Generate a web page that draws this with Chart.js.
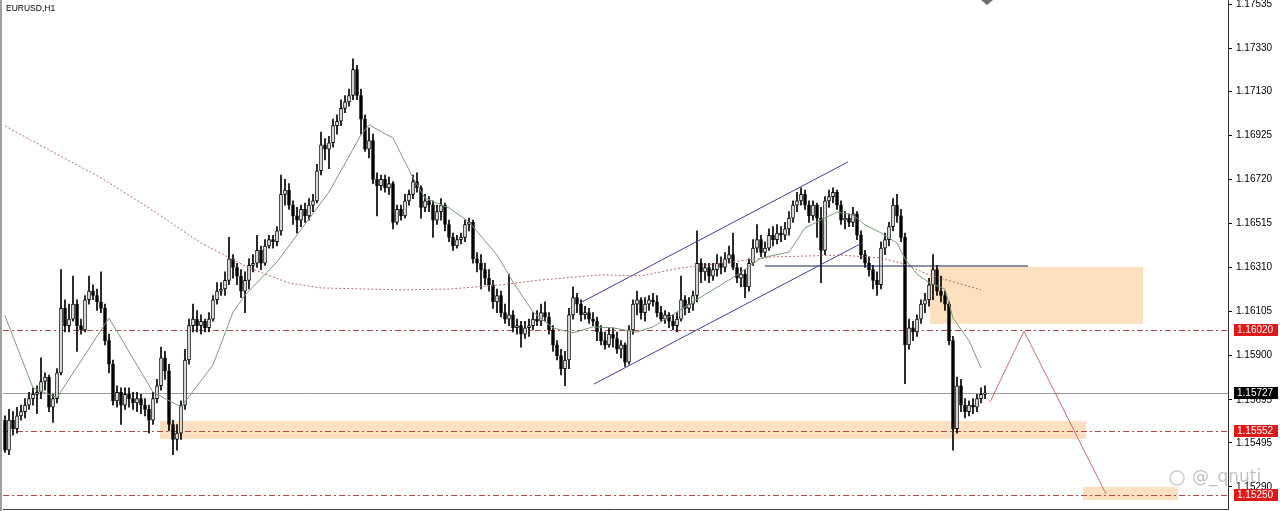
<!DOCTYPE html>
<html>
<head>
<meta charset="utf-8">
<script src="https://cdn.jsdelivr.net/npm/chart.js@4.4.1/dist/chart.umd.min.js"></script>
<style>
  body { margin: 0; background: #fff; }
  canvas { display: block; }
</style>
</head>
<body>
<canvas id="myChart" width="1280" height="511"></canvas>
<script>
// EURUSD H1 bars
const opens = [
1.1560,1.1546,1.1560,1.1556,1.1562,1.1564,1.1567,1.1570,1.1572,1.1573,
1.1578,1.1580,1.1566,1.1570,1.1582,1.1612,1.1604,1.1607,1.1614,1.1604,
1.1602,1.1616,1.1620,1.1618,1.1615,1.1612,1.1597,1.1586,1.1569,1.1573,
1.1567,1.1572,1.1570,1.1568,1.1570,1.1567,1.1565,1.1560,1.1570,1.1576,
1.1589,1.1583,1.1558,1.1551,1.1554,1.1567,1.1588,1.1604,1.1607,1.1604,
1.1606,1.1603,1.1607,1.1616,1.1620,1.1621,1.1625,1.1635,1.1631,1.1627,
1.1620,1.1625,1.1632,1.1633,1.1639,1.1633,1.1641,1.1644,1.1643,1.1648,
1.1665,1.1667,1.1660,1.1655,1.1653,1.1658,1.1655,1.1660,1.1662,1.1676,
1.1688,1.1686,1.1689,1.1697,1.1699,1.1705,1.1708,1.1711,1.1723,1.1711,
1.1700,1.1686,1.1690,1.1672,1.1669,1.1672,1.1668,1.1670,1.1652,1.1658,
1.1655,1.1662,1.1665,1.1671,1.1668,1.1659,1.1662,1.1660,1.1653,1.1657,
1.1660,1.1651,1.1645,1.1641,1.1644,1.1645,1.1651,1.1652,1.1635,1.1633,
1.1630,1.1626,1.1623,1.1615,1.1618,1.1610,1.1607,1.1609,1.1603,1.1604,
1.1600,1.1603,1.1604,1.1607,1.1606,1.1610,1.1608,1.1602,1.1595,1.1590,
1.1584,1.1588,1.1609,1.1617,1.1614,1.1609,1.1610,1.1607,1.1606,1.1601,
1.1597,1.1595,1.1600,1.1598,1.1593,1.1595,1.1587,1.1602,1.1614,1.1616,
1.1610,1.1614,1.1616,1.1615,1.1610,1.1607,1.1609,1.1606,1.1604,1.1607,
1.1616,1.1612,1.1614,1.1618,1.1633,1.1629,1.1631,1.1627,1.1630,1.1633,
1.1631,1.1635,1.1637,1.1631,1.1626,1.1628,1.1622,1.1633,1.1640,1.1644,
1.1638,1.1640,1.1646,1.1644,1.1647,1.1646,1.1649,1.1654,1.1660,1.1662,
1.1665,1.1660,1.1655,1.1660,1.1654,1.1639,1.1662,1.1664,1.1666,1.1660,
1.1653,1.1654,1.1652,1.1656,1.1646,1.1637,1.1633,1.1630,1.1625,1.1623,
1.1640,1.1644,1.1650,1.1660,1.1655,1.1645,1.1595,1.1603,1.1601,1.1607,
1.1614,1.1616,1.1623,1.1630,1.1620,1.1618,1.1614,1.1597,1.1556,1.1576,
1.1567,1.1564,1.1567,1.1566,1.1570,1.1572
];
const highs = [
1.1562,1.1565,1.1564,1.1566,1.1567,1.1570,1.1573,1.1575,1.1576,1.1589,
1.1582,1.1581,1.1572,1.1584,1.1630,1.1616,1.1614,1.1627,1.1616,1.1607,
1.1618,1.1627,1.1623,1.1621,1.1629,1.1614,1.1600,1.1588,1.1576,1.1575,
1.1575,1.1575,1.1573,1.1573,1.1572,1.1570,1.1567,1.1573,1.1579,1.1594,
1.1592,1.1586,1.1560,1.1558,1.1569,1.1593,1.1607,1.1614,1.1611,1.1609,
1.1607,1.1610,1.1618,1.1624,1.1624,1.1629,1.1645,1.1637,1.1633,1.1630,
1.1629,1.1635,1.1637,1.1646,1.1641,1.1644,1.1646,1.1646,1.1650,1.1674,
1.1672,1.1670,1.1662,1.1659,1.1660,1.1661,1.1663,1.1665,1.1679,1.1694,
1.1691,1.1692,1.1700,1.1702,1.1709,1.1711,1.1714,1.1728,1.1725,1.1714,
1.1702,1.1696,1.1693,1.1675,1.1674,1.1674,1.1673,1.1671,1.1660,1.1660,
1.1665,1.1667,1.1674,1.1675,1.1669,1.1665,1.1664,1.1662,1.1660,1.1663,
1.1661,1.1653,1.1647,1.1646,1.1647,1.1653,1.1654,1.1653,1.1638,1.1637,
1.1633,1.1630,1.1625,1.1621,1.1620,1.1614,1.1628,1.1611,1.1607,1.1606,
1.1606,1.1607,1.1610,1.1611,1.1614,1.1615,1.1610,1.1604,1.1597,1.1593,
1.1592,1.1612,1.1622,1.1619,1.1616,1.1613,1.1612,1.1610,1.1608,1.1604,
1.1601,1.1603,1.1603,1.1601,1.1597,1.1596,1.1604,1.1616,1.1620,1.1617,
1.1617,1.1618,1.1619,1.1618,1.1613,1.1611,1.1610,1.1609,1.1610,1.1627,
1.1618,1.1617,1.1620,1.1648,1.1635,1.1633,1.1633,1.1633,1.1637,1.1636,
1.1638,1.1641,1.1647,1.1633,1.1631,1.1630,1.1635,1.1644,1.1651,1.1646,
1.1643,1.1649,1.1650,1.1651,1.1650,1.1652,1.1657,1.1662,1.1666,1.1668,
1.1667,1.1662,1.1662,1.1661,1.1659,1.1664,1.1667,1.1668,1.1667,1.1662,
1.1657,1.1656,1.1659,1.1657,1.1648,1.1639,1.1636,1.1632,1.1629,1.1643,
1.1647,1.1652,1.1663,1.1665,1.1658,1.1647,1.1607,1.1606,1.1609,1.1616,
1.1619,1.1626,1.1637,1.1632,1.1627,1.1620,1.1615,1.1599,1.1580,1.1579,
1.1570,1.1569,1.1570,1.1572,1.1575,1.1576
];
const lows = [
1.1545,1.1544,1.1553,1.1554,1.1560,1.1561,1.1565,1.1567,1.1563,1.1570,
1.1574,1.1564,1.1559,1.1568,1.1581,1.1601,1.1601,1.1606,1.1592,1.1600,
1.1601,1.1614,1.1616,1.1611,1.1610,1.1595,1.1582,1.1567,1.1566,1.1558,
1.1565,1.1566,1.1565,1.1564,1.1563,1.1562,1.1554,1.1558,1.1568,1.1574,
1.1579,1.1555,1.1544,1.1546,1.1551,1.1565,1.1586,1.1601,1.1601,1.1600,
1.1601,1.1601,1.1606,1.1614,1.1618,1.1618,1.1623,1.1626,1.1623,1.1617,
1.1610,1.1621,1.1629,1.1631,1.1630,1.1632,1.1640,1.1640,1.1641,1.1646,
1.1660,1.1658,1.1651,1.1647,1.1650,1.1652,1.1653,1.1657,1.1661,1.1674,
1.1681,1.1677,1.1687,1.1693,1.1697,1.1703,1.1706,1.1709,1.1709,1.1693,
1.1685,1.1682,1.1670,1.1655,1.1667,1.1666,1.1665,1.1649,1.1651,1.1653,
1.1654,1.1660,1.1663,1.1666,1.1654,1.1657,1.1657,1.1645,1.1651,1.1653,
1.1648,1.1643,1.1639,1.1640,1.1642,1.1643,1.1648,1.1633,1.1629,1.1621,
1.1623,1.1620,1.1612,1.1610,1.1608,1.1605,1.1604,1.1601,1.1600,1.1594,
1.1598,1.1599,1.1602,1.1604,1.1604,1.1606,1.1600,1.1592,1.1588,1.1581,
1.1576,1.1584,1.1607,1.1610,1.1606,1.1607,1.1605,1.1604,1.1597,1.1595,
1.1593,1.1594,1.1594,1.1591,1.1589,1.1585,1.1586,1.1600,1.1609,1.1607,
1.1606,1.1611,1.1613,1.1608,1.1606,1.1605,1.1603,1.1602,1.1601,1.1606,
1.1609,1.1610,1.1611,1.1615,1.1624,1.1625,1.1624,1.1625,1.1627,1.1628,
1.1629,1.1633,1.1630,1.1624,1.1622,1.1617,1.1620,1.1632,1.1638,1.1636,
1.1636,1.1639,1.1641,1.1642,1.1643,1.1644,1.1646,1.1652,1.1657,1.1660,
1.1658,1.1652,1.1653,1.1645,1.1624,1.1637,1.1659,1.1661,1.1658,1.1651,
1.1649,1.1650,1.1650,1.1644,1.1635,1.1631,1.1627,1.1621,1.1618,1.1621,
1.1637,1.1641,1.1648,1.1652,1.1643,1.1577,1.1593,1.1597,1.1599,1.1605,
1.1610,1.1613,1.1616,1.1618,1.1615,1.1611,1.1595,1.1546,1.1554,1.1564,
1.1561,1.1562,1.1563,1.1564,1.1568,1.1570
];
const closes = [
1.1546,1.1560,1.1556,1.1562,1.1564,1.1567,1.1570,1.1572,1.1573,1.1578,
1.1580,1.1566,1.1570,1.1582,1.1612,1.1604,1.1607,1.1614,1.1604,1.1602,
1.1616,1.1620,1.1618,1.1615,1.1612,1.1597,1.1586,1.1569,1.1573,1.1567,
1.1572,1.1570,1.1568,1.1570,1.1567,1.1565,1.1560,1.1570,1.1576,1.1589,
1.1583,1.1558,1.1551,1.1554,1.1567,1.1588,1.1604,1.1607,1.1604,1.1606,
1.1603,1.1607,1.1616,1.1620,1.1621,1.1625,1.1635,1.1631,1.1627,1.1620,
1.1625,1.1632,1.1633,1.1639,1.1633,1.1641,1.1644,1.1643,1.1648,1.1665,
1.1667,1.1660,1.1655,1.1653,1.1658,1.1655,1.1660,1.1662,1.1676,1.1688,
1.1686,1.1689,1.1697,1.1699,1.1705,1.1708,1.1711,1.1723,1.1711,1.1700,
1.1686,1.1690,1.1672,1.1669,1.1672,1.1668,1.1670,1.1652,1.1658,1.1655,
1.1662,1.1665,1.1671,1.1668,1.1659,1.1662,1.1660,1.1653,1.1657,1.1660,
1.1651,1.1645,1.1641,1.1644,1.1645,1.1651,1.1652,1.1635,1.1633,1.1630,
1.1626,1.1623,1.1615,1.1618,1.1610,1.1607,1.1609,1.1603,1.1604,1.1600,
1.1603,1.1604,1.1607,1.1606,1.1610,1.1608,1.1602,1.1595,1.1590,1.1584,
1.1588,1.1609,1.1617,1.1614,1.1609,1.1610,1.1607,1.1606,1.1601,1.1597,
1.1595,1.1600,1.1598,1.1593,1.1595,1.1587,1.1602,1.1614,1.1616,1.1610,
1.1614,1.1616,1.1615,1.1610,1.1607,1.1609,1.1606,1.1604,1.1607,1.1616,
1.1612,1.1614,1.1618,1.1633,1.1629,1.1631,1.1627,1.1630,1.1633,1.1631,
1.1635,1.1637,1.1631,1.1626,1.1628,1.1622,1.1633,1.1640,1.1644,1.1638,
1.1640,1.1646,1.1644,1.1647,1.1646,1.1649,1.1654,1.1660,1.1662,1.1665,
1.1660,1.1655,1.1660,1.1654,1.1639,1.1662,1.1664,1.1666,1.1660,1.1653,
1.1654,1.1652,1.1656,1.1646,1.1637,1.1633,1.1630,1.1625,1.1623,1.1640,
1.1644,1.1650,1.1660,1.1655,1.1645,1.1595,1.1603,1.1601,1.1607,1.1614,
1.1616,1.1623,1.1630,1.1620,1.1618,1.1614,1.1597,1.1556,1.1576,1.1567,
1.1564,1.1567,1.1566,1.1570,1.1572,1.15727
];

// moving averages: [bar index, price]
const maFast = [
[0,1.16085],[7,1.15750],[13,1.15705],[26,1.16075],[37,1.15731],[44,1.15661],
[52,1.15857],[57,1.16103],[60,1.16182],[68,1.16336],[81,1.16661],[89,1.16927],
[91,1.16973],[97,1.16912],[102,1.16727],[105,1.16633],[111,1.16587],[116,1.16522],
[123,1.16368],[127,1.16243],[132,1.16103],[137,1.16029],[142,1.16006],[147,1.16034],
[152,1.16029],[158,1.16010],[162,1.16034],[172,1.16150],[183,1.16275],[189,1.16354],
[196,1.16382],[200,1.16494],[208,1.16568],[212,1.16554],[215,1.16508],[219,1.16471],
[223,1.16424],[225,1.16350],[228,1.16280],[231,1.16240],[235,1.16210],[237,1.16075],
[241,1.15970],[244,1.15843]
];
const maSlow = [
[0,1.16968],[11,1.16857],[24,1.16727],[36,1.16587],[49,1.16424],[61,1.16308],
[71,1.16238],[79,1.16215],[99,1.16206],[111,1.16210],[124,1.16229],[134,1.16252],
[149,1.16276],[159,1.16271],[169,1.16308],[192,1.16359],[209,1.16368],[219,1.16354],
[224,1.16331],[231,1.16276],[244,1.16206]
];

// drawn objects
const channelUpper = [[143.75,1.16145],[210.75,1.16801]];
const channelLower = [[147.25,1.15768],[214.25,1.16424]];
const resistLine = [[190,1.16317],[255.75,1.16317]];
const projection = [[246.25,1.15685],[254.75,1.16014],[275.25,1.15257]];
// zones: [fromBar, toBar, top, bottom]
const zones = [
[231.25,284.5,1.16313,1.16048],
[38.75,270.25,1.15596,1.15513],
[269.5,293.25,1.15290,1.15229]
];
const levels = [1.16020, 1.15552, 1.15250];
const bidPrice = 1.15727;
const yTicks = [1.17535,1.17330,1.17130,1.16925,1.16720,1.16515,1.16310,1.16105,1.15900,1.15695,1.15495,1.15290];

const toXY = arr => arr.map(p => ({ x: p[0], y: p[1] }));

const mt4Plugin = {
    id: 'mt4',
    beforeDatasetsDraw(chart) {
        const { ctx, chartArea: a, scales: { x, y } } = chart;
        ctx.save();
        ctx.fillStyle = 'rgb(252,224,192)';
        zones.forEach(z => {
            const x1 = x.getPixelForValue(z[0]), x2 = x.getPixelForValue(z[1]);
            const y1 = y.getPixelForValue(z[2]), y2 = y.getPixelForValue(z[3]);
            ctx.fillRect(x1, y1, x2 - x1, y2 - y1);
        });
        // bid line
        ctx.strokeStyle = '#9a9a9a';
        ctx.lineWidth = 1;
        let py = Math.round(y.getPixelForValue(bidPrice)) + 0.5;
        ctx.beginPath(); ctx.moveTo(a.left, py); ctx.lineTo(a.right, py); ctx.stroke();
        // horizontal levels
        ctx.strokeStyle = '#b24a4a';
        ctx.setLineDash([6, 3, 2, 3]);
        levels.forEach(v => {
            const ly = Math.round(y.getPixelForValue(v)) + 0.5;
            ctx.beginPath(); ctx.moveTo(a.left, ly); ctx.lineTo(a.right, ly); ctx.stroke();
        });
        ctx.restore();
    },
    afterDraw(chart) {
        const { ctx, chartArea: a, scales: { x, y } } = chart;
        ctx.save();
        // frame
        ctx.fillStyle = '#a0a0a0';
        ctx.fillRect(0, 0, 2, chart.height);
        ctx.strokeStyle = '#444';
        ctx.lineWidth = 1;
        ctx.beginPath(); ctx.moveTo(a.left, a.bottom + 0.5); ctx.lineTo(a.right, a.bottom + 0.5); ctx.stroke();
        // title
        ctx.fillStyle = '#000';
        ctx.font = '8.5px "Liberation Sans", Arial, sans-serif';
        ctx.textBaseline = 'top';
        ctx.fillText('EURUSD,H1', 6, 4);
        // scroll marker at the top
        const mx = x.getPixelForValue(245.5);
        ctx.fillStyle = '#6e6e6e';
        ctx.beginPath(); ctx.moveTo(mx - 6, a.top); ctx.lineTo(mx + 6, a.top); ctx.lineTo(mx, a.top + 5); ctx.closePath(); ctx.fill();
        // price labels on the axis
        ctx.font = '10px "Liberation Sans", Arial, sans-serif';
        ctx.textBaseline = 'middle';
        const tag = (v, bg) => {
            const ty = Math.round(y.getPixelForValue(v));
            ctx.fillStyle = bg;
            ctx.fillRect(a.right + 6, ty - 6, 44, 12);
            ctx.fillStyle = '#fff';
            ctx.fillText(v.toFixed(5), a.right + 9, ty + 0.5);
        };
        levels.forEach(v => tag(v, '#e01818'));
        tag(bidPrice, '#000');
        // watermark
        ctx.strokeStyle = 'rgba(150,150,150,0.5)';
        ctx.lineWidth = 1.5;
        ctx.beginPath(); ctx.arc(1177, 478, 7, 0, Math.PI * 2); ctx.stroke();
        ctx.font = '17px "DejaVu Sans", sans-serif';
        ctx.fillStyle = 'rgba(140,140,140,0.55)';
        ctx.fillText('@_qnuti', 1192, 478);
        ctx.restore();
    }
};

document.addEventListener("DOMContentLoaded", function() {
    const ctx = document.getElementById('myChart').getContext('2d');

    const bodies = closes.map((c, i) => ({ x: i, y: [opens[i], c] }));
    const wicks = highs.map((h, i) => ({ x: i, y: [lows[i], h] }));
    const bull = closes.map((c, i) => c >= opens[i]);

    const lineSet = (data, color, extra) => Object.assign({
        type: 'line', data: data, borderColor: color, borderWidth: 1,
        pointRadius: 0, tension: 0, fill: false
    }, extra || {});

    const config = {
        type: 'bar',
        data: {
            datasets: [
                lineSet(toXY(channelUpper), '#3d3da0', { order: 1 }),
                lineSet(toXY(channelLower), '#3d3da0', { order: 1 }),
                lineSet(toXY(resistLine), '#1b2458', { order: 1 }),
                lineSet(toXY(projection), '#cc6a6a', { order: 1 }),
                lineSet(toXY(maFast), '#7a9a7a', { order: 2 }),
                lineSet(toXY(maSlow), '#b86a6a', { order: 2, borderDash: [2, 2] }),
                {
                    data: bodies,
                    backgroundColor: bull.map(b => b ? '#ffffff' : '#000000'),
                    borderColor: '#000',
                    borderWidth: 1,
                    borderSkipped: false,
                    barThickness: 3,
                    grouped: false,
                    order: 3
                },
                {
                    data: wicks,
                    backgroundColor: '#000',
                    barThickness: 1,
                    grouped: false,
                    order: 4
                }
            ]
        },
        options: {
            responsive: false,
            animation: false,
            events: [],
            layout: { padding: { left: 3, right: 0, top: 0, bottom: 2 } },
            scales: {
                x: {
                    type: 'linear',
                    min: -0.5,
                    max: 305.75,
                    offset: false,
                    display: false
                },
                y: {
                    position: 'right',
                    min: 1.15187,
                    max: 1.17554,
                    afterBuildTicks: s => { s.ticks = yTicks.map(v => ({ value: v })); },
                    afterFit: s => { s.width = 52; s.paddingTop = 0; s.paddingBottom = 0; },
                    ticks: {
                        autoSkip: false,
                        padding: 4,
                        color: '#000',
                        font: { family: '"Liberation Sans", Arial, sans-serif', size: 10 },
                        callback: v => Number(v).toFixed(5)
                    },
                    grid: { drawOnChartArea: false, tickLength: 4, color: '#000' },
                    border: { display: true, color: '#333', width: 1 }
                }
            },
            plugins: {
                legend: { display: false },
                tooltip: { enabled: false }
            }
        },
        plugins: [mt4Plugin]
    };

    new Chart(ctx, config);
});
</script>
</body>
</html>
